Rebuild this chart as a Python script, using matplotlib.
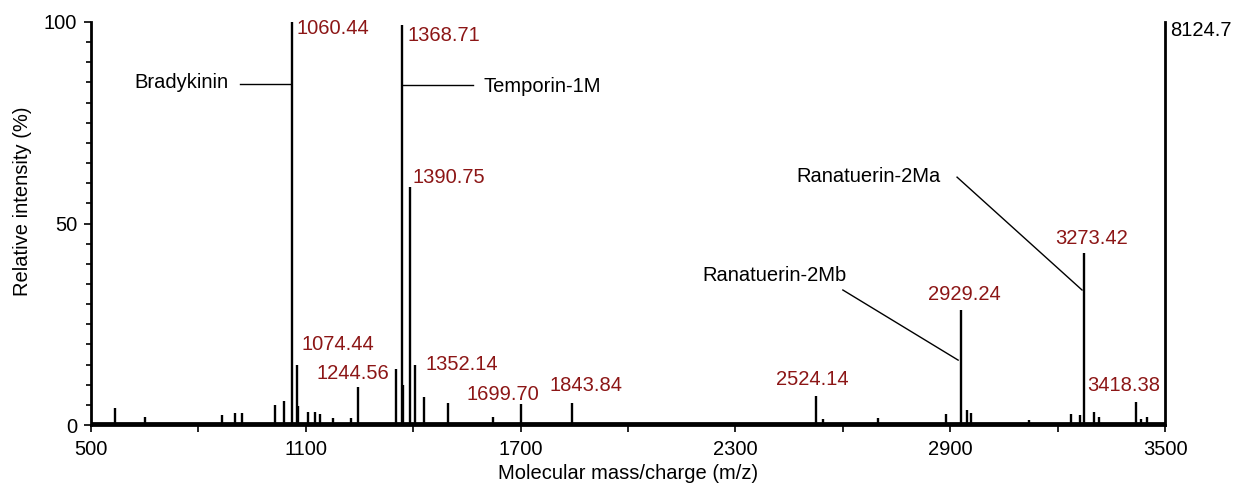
import matplotlib.pyplot as plt
from matplotlib.ticker import FixedLocator, MultipleLocator

plt.rcParams['font.family'] = ['Liberation Sans', 'DejaVu Sans']

# peaks of the spectrum (m/z, relative intensity %)
peak_mz = [566, 651, 865, 902, 921, 1014, 1040, 1060.44, 1074.44, 1079,
           1106, 1126, 1141, 1175, 1225, 1244.56, 1352.14, 1368.71, 1372,
           1390.75, 1405, 1430, 1497, 1624, 1699.70, 1843.84, 2524.14, 2545,
           2698, 2888, 2929.24, 2947, 2957, 3120, 3237, 3262, 3273.42, 3301,
           3315, 3418.38, 3432, 3450]
peak_int = [4.2, 2.0, 2.5, 3.0, 3.0, 5.0, 6.0, 100, 15, 4.7,
            3.2, 3.2, 2.7, 1.7, 1.7, 9.4, 13.9, 99.3, 10,
            59, 15, 7, 5.5, 2.0, 5.2, 5.5, 7.3, 1.5,
            1.7, 2.7, 28.5, 3.7, 3.0, 1.2, 2.7, 2.5, 42.7, 3.2,
            2.0, 5.7, 1.5, 2.0]

# red mass labels: text, x, y (left edge, vertical centre)
mass_text = ["1060.44", "1368.71", "1390.75", "1074.44", "1244.56", "1352.14",
             "1699.70", "1843.84", "2524.14", "2929.24", "3273.42", "3418.38"]
mass_x = [1075, 1385, 1399, 1089, 1130, 1433, 1549, 1782, 2413, 2837, 3193, 3282]
mass_y = [98.4, 96.6, 61.5, 20.1, 12.7, 15.1, 7.6, 9.9, 11.2, 32.5, 46.4, 9.9]

# peptide names with leader lines
names = ["Bradykinin", "Temporin-1M", "Ranatuerin-2Ma", "Ranatuerin-2Mb"]
name_x = [883, 1595, 2471, 2209]
name_y = [84.9, 84.1, 61.6, 37.1]
name_ha = ["right", "left", "left", "left"]
lead_x = [(916, 1060), (1371, 1567), (2919, 3268), (2600, 2922)]
lead_y = [(84.6, 84.6), (84.4, 84.4), (61.5, 33.5), (33.5, 16.1)]

x_ticks = [500, 1100, 1700, 2300, 2900, 3500]
x_minor = [800, 1400, 2000, 2600, 3200]

red = "#8c1616"
fs = 14.5

fig = plt.figure(figsize=(12.38, 4.91), dpi=100)
ax = fig.add_axes([0.0735, 0.1344, 0.8676, 0.8208])

ax.vlines(peak_mz, 0, peak_int, color="black", lw=1.7)
ax.plot([500, 3500], [0.6, 0.6], color="black", lw=2)

for t, x, y in zip(mass_text, mass_x, mass_y):
    ax.text(x, y, t, color=red, fontsize=fs, ha="left", va="center")
for t, x, y, ha in zip(names, name_x, name_y, name_ha):
    ax.text(x, y, t, color="black", fontsize=fs, ha=ha, va="center")
for xs, ys in zip(lead_x, lead_y):
    ax.plot(xs, ys, color="black", lw=1)
ax.text(3514, 98, "8124.7", fontsize=fs, ha="left", va="center", clip_on=False)

ax.set_xlim(500, 3500)
ax.set_ylim(0, 100)
ax.xaxis.set_major_locator(FixedLocator(x_ticks))
ax.xaxis.set_minor_locator(FixedLocator(x_minor))
ax.yaxis.set_major_locator(MultipleLocator(50))
ax.yaxis.set_minor_locator(MultipleLocator(5))
ax.tick_params(axis="both", which="major", labelsize=fs, width=1.2, length=5, direction="out")
ax.tick_params(axis="x", which="major", pad=6)
ax.tick_params(axis="x", which="minor", length=5, width=1.2)
ax.tick_params(axis="y", which="minor", length=3.5, width=1.2)
ax.tick_params(axis="y", which="major", pad=5)

ax.spines["top"].set_visible(False)
for s in ["left", "bottom", "right"]:
    ax.spines[s].set_linewidth(2)

ax.set_xlabel("Molecular mass/charge (m/z)", fontsize=fs)
ax.set_ylabel("Relative intensity (%)", fontsize=fs)
ax.xaxis.set_label_coords(0.5, -0.097)
ax.yaxis.set_label_coords(-0.055, 0.556)

fig.savefig("out.png", dpi=100)
